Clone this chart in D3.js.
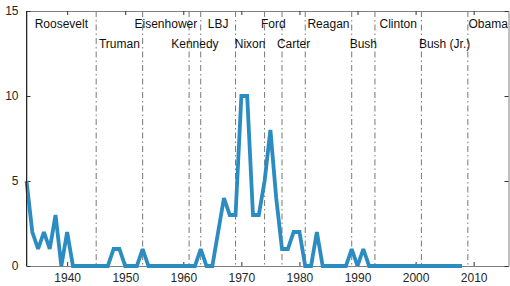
<!DOCTYPE html>
<html>
<head>
<meta charset="utf-8">
<script src="https://cdn.jsdelivr.net/npm/d3@7"></script>
<style>
  body { margin: 0; background: #fff; }
  svg text { font-family: "Liberation Sans", Arial, sans-serif; font-size: 12px; fill: #262626; }
</style>
</head>
<body>
<svg id="chart"></svg>
<script>
// yearly counts, 1933..2008
const years = d3.range(1933, 2009)
const counts = [
  5, 2, 1, 2, 1, 3, 0, 2, 0, 0,   // 1933-1942
  0, 0, 0, 0, 0, 1, 1, 0, 0, 0,   // 1943-1952
  1, 0, 0, 0, 0, 0, 0, 0, 0, 0,   // 1953-1962
  1, 0, 0, 2, 4, 3, 3, 10, 10, 3, // 1963-1972
  3, 5, 8, 4, 1, 1, 2, 2, 0, 0,   // 1973-1982
  2, 0, 0, 0, 0, 0, 1, 0, 1, 0,   // 1983-1992
  0, 0, 0, 0, 0, 0, 0, 0, 0, 0,   // 1993-2002
  0, 0, 0, 0, 0, 0                // 2003-2008
]

const presidents = ['Roosevelt', 'Truman', 'Eisenhower', 'Kennedy', 'LBJ', 'Nixon', 'Ford',
  'Carter', 'Reagan', 'Bush', 'Clinton', 'Bush (Jr.)', 'Obama']
const termStart = [1933, 1945, 1953, 1961, 1963, 1969, 1974, 1977, 1981, 1989, 1993, 2001, 2009]
const termEnd = [1945, 1953, 1961, 1963, 1969, 1974, 1977, 1981, 1989, 1993, 2001, 2009, 2016]

const xTicks = [1940, 1950, 1960, 1970, 1980, 1990, 2000, 2010]
const yTicks = [0, 5, 10, 15]

const W = 510, H = 286
const mLeft = 26.5, mRight = 508.5, mTop = 11, mBottom = 266

const svg = d3.select('#chart').attr('width', W).attr('height', H)

const x = d3.scaleLinear().domain([1933, 2016]).range([mLeft, mRight])
const y = d3.scaleLinear().domain([0, 15]).range([mBottom, mTop])

// term separators
svg.append('g').selectAll('line').data(termStart.slice(1)).enter().append('line')
  .attr('x1', d => x(d)).attr('x2', d => x(d))
  .attr('y1', mTop).attr('y2', mBottom)
  .attr('stroke', '#555').attr('stroke-width', 0.8)
  .attr('stroke-dasharray', '6,3,1.5,3')

// president names, alternating rows
svg.append('g').selectAll('text').data(presidents).enter().append('text')
  .attr('x', (d, i) => x((termStart[i] + termEnd[i]) / 2))
  .attr('y', (d, i) => i % 2 === 0 ? 28 : 47.5)
  .attr('text-anchor', 'middle')
  .style('fill', '#111')
  .text(d => d)

// axes (box, inward ticks)
const tick = 4
svg.append('g').attr('transform', `translate(0,${mBottom})`)
  .call(d3.axisBottom(x).tickValues(xTicks).tickFormat(d3.format('d')).tickSizeInner(-tick).tickSizeOuter(0).tickPadding(7))
svg.append('g').attr('transform', `translate(0,${mTop})`)
  .call(d3.axisTop(x).tickValues(xTicks).tickFormat('').tickSizeInner(-tick).tickSizeOuter(0))
svg.append('g').attr('transform', `translate(${mLeft},0)`)
  .call(d3.axisLeft(y).tickValues(yTicks).tickSizeInner(-tick).tickSizeOuter(0).tickPadding(8))
svg.append('g').attr('transform', `translate(${mRight},0)`)
  .call(d3.axisRight(y).tickValues(yTicks).tickFormat('').tickSizeInner(-tick).tickSizeOuter(0))

svg.selectAll('.domain').attr('stroke', '#808080')
svg.selectAll('.tick line').attr('stroke', '#333')
svg.selectAll('.tick text').style('font-size', '12px').style('fill', '#262626')

// data line
const line = d3.line().x((d, i) => x(years[i])).y(d => y(d))
svg.append('path').datum(counts)
  .attr('d', line)
  .attr('fill', 'none')
  .attr('stroke', '#2b8cc1')
  .attr('stroke-width', 3.8)
  .attr('stroke-linejoin', 'miter')
  .attr('stroke-miterlimit', 2)

// left spine on top, darker like the reference
svg.append('line').attr('x1', mLeft).attr('x2', mLeft).attr('y1', mTop).attr('y2', mBottom)
  .attr('stroke', '#262626').attr('stroke-width', 1)
</script>
</body>
</html>
